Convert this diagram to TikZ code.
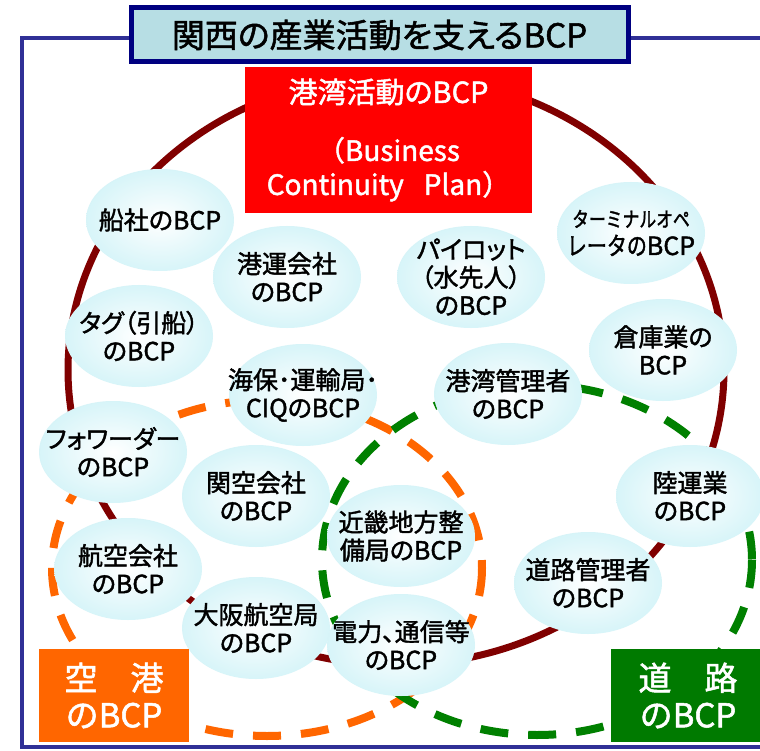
\documentclass[tikz,border=0pt]{standalone}
\usepackage{fontspec}
\setmainfont[RawFeature=+palt, FakeBold=1.6]{Noto Sans CJK JP}
\newfontfamily\narrowjp[FakeStretch=0.8, FakeBold=1.6]{Noto Sans CJK JP}
\newfontfamily\plainjp[FakeBold=1.6]{Noto Sans CJK JP}
\usetikzlibrary{shapes.geometric}
\definecolor{framec}{RGB}{48,48,150}
\definecolor{titleborder}{RGB}{0,0,128}
\definecolor{titlefill}{RGB}{183,222,228}
\definecolor{portred}{RGB}{255,0,0}
\definecolor{maroonc}{RGB}{128,0,0}
\definecolor{airorange}{RGB}{255,102,0}
\definecolor{roadgreen}{RGB}{0,128,0}
\definecolor{roadbox}{RGB}{0,122,0}
\definecolor{bubbleedge}{RGB}{176,234,242}
\pgfdeclareradialshading{bubbleshade}{\pgfpoint{0bp}{0bp}}{color(0bp)=(white); color(12bp)=(white!75!bubbleedge); color(50bp)=(bubbleedge); color(80bp)=(bubbleedge)}
\tikzset{
  bubtext/.style={align=center, inner sep=0pt, text=black, font=\fontsize{25}{28}\selectfont},
  bubfill/.style={shading=bubbleshade},
  dashring/.style={line width=8pt, dash pattern=on 28pt off 20pt},
  bigbox/.style={draw=none, inner sep=0pt, text=white, align=center},
}
\newcommand\bubble[4]{%
  \shade[bubfill] (#2,#3) ellipse [x radius=74, y radius=51];
  \node[bubtext] (#1) at (#2,#3) {#4};}
\begin{document}
\begin{tikzpicture}[x=1pt,y=-1pt]
\useasboundingbox (0,0) rectangle (760,751);
\fill[white] (0,0) rectangle (760,751);
% outer frame
\draw[framec, line width=4pt] (775,38) -- (22,38) -- (22,747) -- (775,747);
% rings
\draw[maroonc, line width=7pt] (396,370) ellipse [x radius=328, y radius=295];
\draw[airorange, dashring] (267,568) ellipse [x radius=215, y radius=168];
\draw[roadgreen, dashring] (537,560) ellipse [x radius=215, y radius=175];
% bubbles
\bubble{b1}{160}{220}{船社のBCP}
\bubble{b2}{287}{277}{港運会社\\のBCP}
\bubble{b3}{471}{277}{パイロット\\（水先人）\\のBCP}
\bubble{b4}{631}{233}{\fontsize{21}{28}\selectfont{\narrowjp ターミナルオペ}\\{\narrowjp レータの}BCP}
\bubble{b5}{139}{336}{タグ（引船）\\のBCP}
\bubble{b6}{663}{350}{倉庫業の\\BCP}
\bubble{b7}{303}{395}{海保･運輸局･\\CIQのBCP}
\bubble{b8}{508}{394}{港湾管理者\\のBCP}
\bubble{b9}{113}{452}{フォワーダー\\のBCP}
\bubble{b10}{256}{496}{関空会社\\のBCP}
\bubble{b11}{690}{496}{陸運業\\のBCP}
\bubble{b12}{401}{536}{近畿地方整\\備局のBCP}
\bubble{b13}{128}{569}{航空会社\\のBCP}
\bubble{b14}{588}{583}{道路管理者\\のBCP}
\bubble{b15}{256}{628}{大阪航空局\\のBCP}
\bubble{b16}{401}{645}{電力、通信等\\のBCP}
% red box
\node[bigbox, fill=portred, minimum width=287pt, minimum height=146pt,
      font=\fontsize{28}{34}\selectfont] (port) at (388.5,140)
  {{\fontsize{29}{34}\selectfont 港湾活動のBCP}\\[24pt]{\plainjp（}Business\\Continuity\hspace{20pt}Plan{\plainjp ）}};
% title
\node[draw=titleborder, line width=5pt, fill=titlefill, minimum width=497pt, minimum height=54pt,
      inner sep=0pt, font=\fontsize{33}{36}\selectfont] (title) at (379.5,35) {関西の産業活動を支えるBCP};
% airport and road boxes
\node[bigbox, fill=airorange, minimum width=150pt, minimum height=93pt,
      font=\fontsize{33}{37}\selectfont] (airport) at (114,695.5) {\plainjp 空　港\\\plainjp のBCP};
\node[bigbox, fill=roadbox, minimum width=154pt, minimum height=93pt,
      font=\fontsize{33}{37}\selectfont] (road) at (688,695.5) {\plainjp 道　路\\\plainjp のBCP};
\end{tikzpicture}
\end{document}
